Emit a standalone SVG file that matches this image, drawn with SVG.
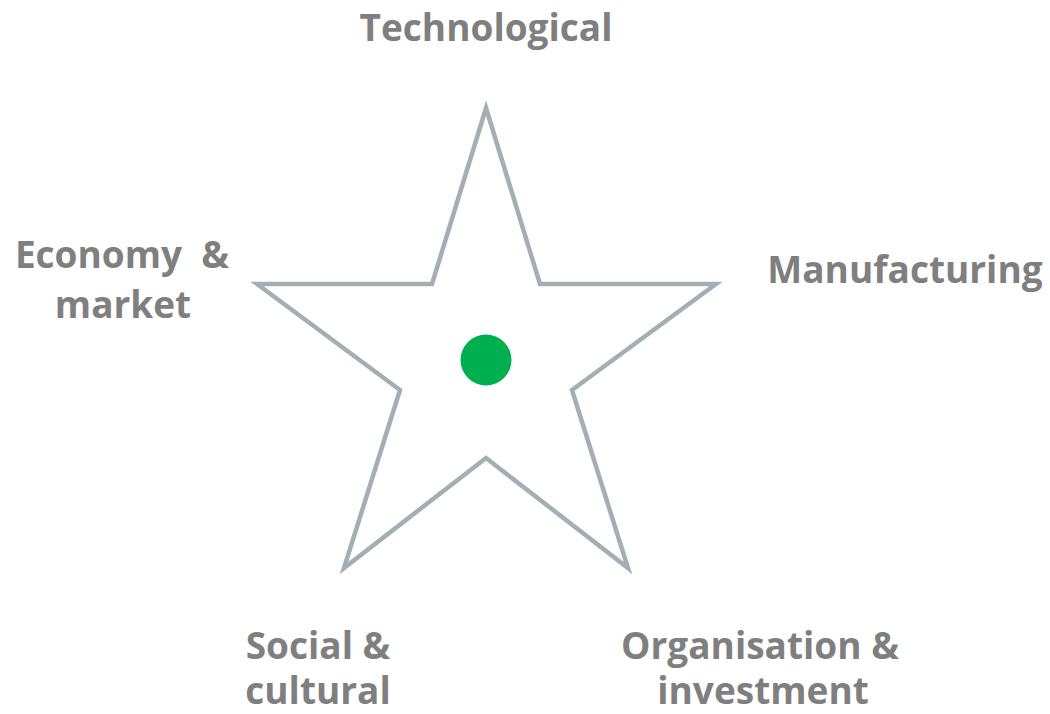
<svg xmlns="http://www.w3.org/2000/svg" width="1050" height="714" viewBox="0 0 1050 714">
<style>
.lbl{font-family:"Open Sans","Liberation Sans",sans-serif;font-weight:bold;font-size:37px;fill:#7f7f7f;text-anchor:middle}
.star{fill:none;stroke:#a3aeb5;stroke-width:4.5;stroke-linejoin:miter}
</style>
<rect width="1050" height="714" fill="#ffffff"/>
<g id="star">
<polygon class="star" points="486,108 540,284 716,284 572,390 628,568 486,458 344,568 400,390 257,284 432,284"/>
</g>
<g id="center"><circle cx="486" cy="360" r="25.5" fill="#00b050"/></g>
<g id="technological"><text class="lbl" x="486" y="41">Technological</text></g>
<g id="economy"><text class="lbl" x="122" y="268" xml:space="preserve">Economy  &amp;</text><text class="lbl" x="123" y="318">market</text></g>
<g id="manufacturing"><text class="lbl" x="905" y="283">Manufacturing</text></g>
<g id="social"><text class="lbl" x="318" y="659">Social &amp;</text><text class="lbl" x="318" y="704">cultural</text></g>
<g id="organisation"><text class="lbl" x="760" y="659">Organisation &amp;</text><text class="lbl" x="763" y="704">investment</text></g>
<g id="connectors"/>
</svg>
